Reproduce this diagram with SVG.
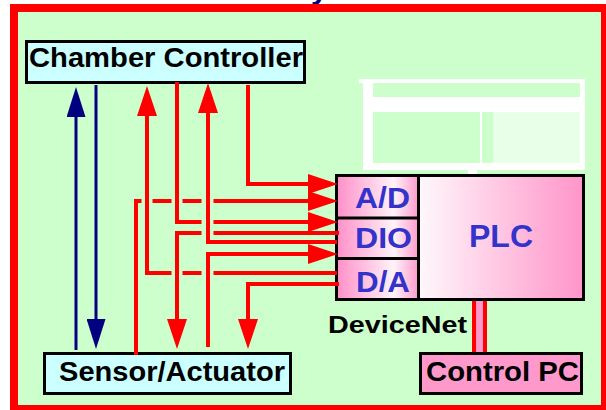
<svg xmlns="http://www.w3.org/2000/svg" width="606" height="410" viewBox="0 0 606 410">
  <style>
    .box { stroke: #000000; stroke-width: 3; }
    .lbl { font-family: "Liberation Sans", Arial, sans-serif; font-weight: bold; fill: #000000; }
    .io { font-family: "Liberation Sans", Arial, sans-serif; font-weight: bold; fill: #3333CC; }
    .red { fill: none; stroke: #FF0000; stroke-width: 4; }
    .blue { fill: none; stroke: #000080; stroke-width: 3; }
  </style>
  <defs>
    <marker id="arrRed" viewBox="0 0 30 20" refX="20" refY="10" markerWidth="30" markerHeight="20" markerUnits="userSpaceOnUse" orient="auto">
      <path d="M0,0 L30,10 L0,20 z" fill="#FF0000"/>
    </marker>
    <marker id="arrBlue" viewBox="0 0 30 19" refX="20" refY="9.5" markerWidth="30" markerHeight="19" markerUnits="userSpaceOnUse" orient="auto">
      <path d="M0,0 L30,9.5 L0,19 z" fill="#000080"/>
    </marker>
    <linearGradient id="cellGrad" x1="0" y1="0" x2="1" y2="0">
      <stop offset="0" stop-color="#FF8FC8"/>
      <stop offset="0.7" stop-color="#FFF3F9"/>
      <stop offset="1" stop-color="#FF99CC"/>
    </linearGradient>
    <linearGradient id="plcGrad" x1="0" y1="0" x2="1" y2="0">
      <stop offset="0" stop-color="#FFF8FB"/>
      <stop offset="0.95" stop-color="#FF99CC"/>
      <stop offset="1" stop-color="#FF99CC"/>
    </linearGradient>
  </defs>

  <!-- title fragment -->
  <text x="311" y="-1" class="io" font-size="30" fill="#000080" style="fill:#000080">y</text>

  <!-- frame -->
  <rect x="10" y="4" width="596" height="406" fill="#FF0000"/>
  <rect x="18" y="12" width="583" height="393" fill="#CCFFCC"/>

  <!-- white remnant of picture -->
  <g id="plc-picture" fill="#FFFFFF">
    <rect x="359" y="79" width="226" height="4"/>
    <rect x="363" y="79" width="10" height="91"/>
    <rect x="373" y="97" width="209" height="15"/>
    <rect x="580" y="79" width="5" height="91"/>
    <rect x="365" y="163" width="220" height="7"/>
    <rect x="480" y="112" width="2" height="51"/>
    <rect x="493" y="112" width="87" height="51" fill-opacity="0.55"/>
    <rect x="468" y="170" width="9" height="6"/>
  </g>

  <g id="chamber-controller">
    <rect class="box" x="26.5" y="41.5" width="278" height="41" fill="#CCFFFF"/>
    <text class="lbl" x="29" y="67" font-size="28" textLength="274" lengthAdjust="spacingAndGlyphs">Chamber Controller</text>
  </g>

  <g id="sensor-actuator">
    <rect class="box" x="44.5" y="353.5" width="246" height="40" fill="#CCFFFF"/>
    <text class="lbl" x="59" y="381" font-size="28" textLength="226" lengthAdjust="spacingAndGlyphs">Sensor/Actuator</text>
  </g>

  <g id="control-pc">
    <rect class="box" x="420.5" y="353.5" width="161" height="40" fill="#FF99CC"/>
    <text class="lbl" x="426" y="381" font-size="28" textLength="153" lengthAdjust="spacingAndGlyphs">Control PC</text>
  </g>

  <g id="plc">
    <rect x="336.5" y="175.5" width="82" height="124" fill="url(#cellGrad)"/>
    <rect x="418.5" y="175.5" width="165" height="124" fill="url(#plcGrad)"/>
    <rect class="box" x="336.5" y="175.5" width="247" height="124" fill="none"/>
    <line class="box" x1="418.5" y1="175.5" x2="418.5" y2="299.5"/>
    <line class="box" x1="336.5" y1="218" x2="418.5" y2="218"/>
    <line class="box" x1="336.5" y1="258.5" x2="418.5" y2="258.5"/>
    <text class="io" x="355" y="208" font-size="29" textLength="55" lengthAdjust="spacingAndGlyphs">A/D</text>
    <text class="io" x="355" y="248" font-size="29" textLength="57" lengthAdjust="spacingAndGlyphs">DIO</text>
    <text class="io" x="356" y="292" font-size="29" textLength="54" lengthAdjust="spacingAndGlyphs">D/A</text>
    <text class="io" x="469" y="247" font-size="31" textLength="64" lengthAdjust="spacingAndGlyphs">PLC</text>
  </g>

  <g id="devicenet">
    <text class="lbl" x="328" y="333" font-size="24" textLength="139" lengthAdjust="spacingAndGlyphs">DeviceNet</text>
  </g>

  <g id="connectors">
    <!-- DeviceNet cable -->
    <rect x="474" y="301" width="11" height="51" fill="#FF99CC"/>
    <line x1="474" y1="301" x2="474" y2="352" stroke="#FF0000" stroke-width="4"/>
    <line x1="485" y1="301" x2="485" y2="352" stroke="#FF0000" stroke-width="4"/>

    <!-- blue -->
    <path class="blue" d="M76,350 V97" marker-end="url(#arrBlue)"/>
    <path class="blue" d="M96,85 V339" marker-end="url(#arrBlue)"/>

    <!-- CC -> A/D -->
    <path class="red" d="M248,85 V184 H328" marker-end="url(#arrRed)"/>
    <!-- Sensor -> A/D (with crossing gaps) -->
    <path class="red" d="M136,355 V201 H141.5 M152.5,201 H171.5 M182.5,201 H201.5"/>
    <path class="red" d="M213.5,201 H328" marker-end="url(#arrRed)"/>
    <!-- CC -> DIO -->
    <path class="red" d="M177,82 V222 H201.5"/>
    <path class="red" d="M213.5,222 H328" marker-end="url(#arrRed)"/>
    <!-- DIO -> Sensor -->
    <path class="red" d="M339,233 H213.5"/>
    <path class="red" d="M201.5,233 H177 V339" marker-end="url(#arrRed)"/>
    <!-- DIO -> CC -->
    <path class="red" d="M337,242 H208 V93" marker-end="url(#arrRed)"/>
    <!-- Sensor -> DIO -->
    <path class="red" d="M208,347 V254 H328" marker-end="url(#arrRed)"/>
    <!-- D/A -> CC -->
    <path class="red" d="M337,273 H213.5 M201.5,273 H182.5"/>
    <path class="red" d="M171.5,273 H147 V96" marker-end="url(#arrRed)"/>
    <!-- D/A -> Sensor -->
    <path class="red" d="M339,284 H248 V339" marker-end="url(#arrRed)"/>
  </g>
</svg>
